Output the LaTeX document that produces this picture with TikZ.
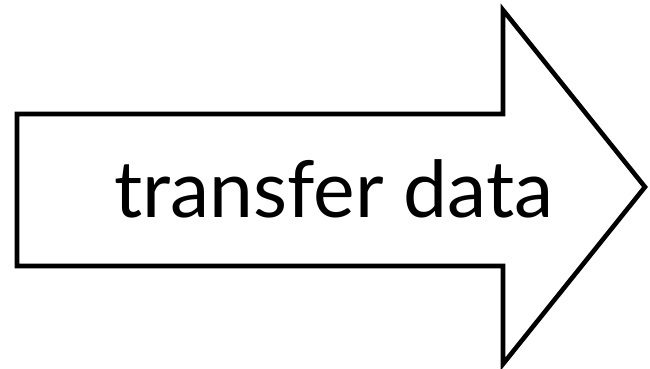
\documentclass[tikz,border=0pt]{standalone}
\usepackage{fontspec}
\setmainfont{Lato}
\usepackage{tikz}

\begin{document}
\begin{tikzpicture}[x=0.5pt,y=-0.5pt]
\useasboundingbox (0,0) rectangle (650,369);
% the arrow outline
\draw[line width=2.3pt,line join=miter] (17,114) -- (503,114) -- (503,10) -- (645,187) -- (503,364) -- (503,266) -- (17,266) -- cycle;
\node[anchor=base,inner sep=0pt,font=\fontsize{39.3}{47}\selectfont] (label) at (334,218) {transfer data};
\end{tikzpicture}
\end{document}
